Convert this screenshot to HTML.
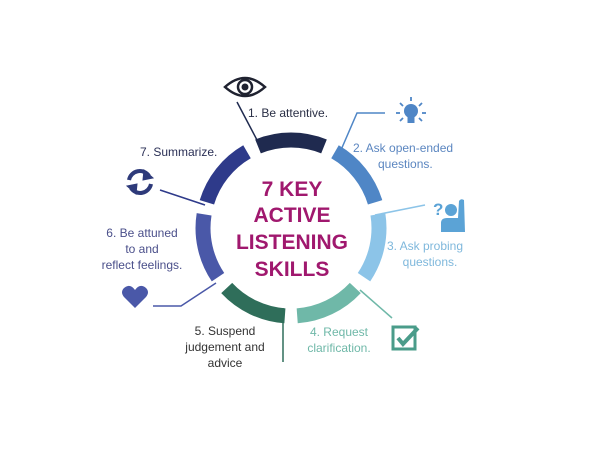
<!DOCTYPE html>
<html><head><meta charset="utf-8"><style>
html,body{margin:0;padding:0;background:#fff;}
svg{display:block;font-family:"Liberation Sans",sans-serif;}
</style></head><body>
<svg width="600" height="450" viewBox="0 0 600 450" xmlns="http://www.w3.org/2000/svg">
<g fill="none" stroke-width="15">
<path d="M258,146.4 A88,88 0 0 1 324,146.4" stroke="#1f2a4f"/>
<path d="M335,151.8 A88,88 0 0 1 375.1,202.3" stroke="#4f86c6"/>
<path d="M377.9,214.3 A88,88 0 0 1 364,277.2" stroke="#8cc4e8"/>
<path d="M355.3,288 A88,88 0 0 1 297.2,315.8" stroke="#6fb8a8"/>
<path d="M284.9,315.8 A88,88 0 0 1 226.7,288" stroke="#2f6e5a"/>
<path d="M218,277.2 A88,88 0 0 1 204.1,214.3" stroke="#4a58a8"/>
<path d="M206.9,202.3 A88,88 0 0 1 247,151.8" stroke="#2e3a8a"/>
</g>
<g fill="none" stroke-width="1.5">
<path d="M237,102 L257,140" stroke="#1f2a4f"/>
<path d="M341,150 L357,113 L385,113" stroke="#4f86c6"/>
<path d="M375,215 L425,205" stroke="#8cc4e8"/>
<path d="M360,290 L392,318" stroke="#6fb8a8"/>
<path d="M283,308 L283,362" stroke="#2f6e5a"/>
<path d="M216,283 L181,306 L153,306" stroke="#4a58a8"/>
<path d="M160,190 L205,205" stroke="#2e3a8a"/>
</g>
<g fill="#a0186e" font-weight="bold" font-size="21" text-anchor="middle">
<text x="292" y="196">7 KEY</text>
<text x="292" y="222">ACTIVE</text>
<text x="292" y="249">LISTENING</text>
<text x="292" y="276">SKILLS</text>
</g>
<g font-size="12">
<text x="248" y="117" fill="#2a2f45">1. Be attentive.</text>
<text x="353" y="152" fill="#5b86c0">2. Ask open-ended</text>
<text x="378" y="168" fill="#5b86c0">questions.</text>
<text x="140" y="156" fill="#2a2f55">7. Summarize.</text>
<g fill="#4a4f8a" text-anchor="middle">
<text x="142" y="237">6. Be attuned</text>
<text x="142" y="253">to and</text>
<text x="142" y="269">reflect feelings.</text>
</g>
<g fill="#7fb8dc" text-anchor="middle">
<text x="425" y="250">3. Ask probing</text>
<text x="430" y="266">questions.</text>
</g>
<g fill="#6fb8a8" text-anchor="middle">
<text x="339" y="336">4. Request</text>
<text x="339" y="352">clarification.</text>
</g>
<g fill="#333" text-anchor="middle">
<text x="225" y="335">5.   Suspend</text>
<text x="225" y="351">judgement and</text>
<text x="225" y="367">advice</text>
</g>
</g>
<!-- eye -->
<g transform="translate(245,87)">
<path d="M-20,0 Q0,-18 20,0 Q0,18 -20,0Z" fill="none" stroke="#1f2230" stroke-width="2.5"/>
<circle r="7" fill="none" stroke="#1f2230" stroke-width="2.5"/>
<circle r="3.5" fill="#1f2230"/>
</g>
<!-- bulb -->
<g transform="translate(411,113)" fill="#4f86c6" stroke="#4f86c6">
<circle cx="0" cy="-2" r="7" stroke="none"/>
<rect x="-3.5" y="4" width="7" height="6" stroke="none"/>
<g stroke-width="1.8"><line x1="0" y1="-16" x2="0" y2="-12"/><line x1="-11" y1="-10" x2="-8" y2="-7"/><line x1="11" y1="-10" x2="8" y2="-7"/><line x1="-15" y1="0" x2="-11" y2="0"/><line x1="15" y1="0" x2="11" y2="0"/><line x1="-11" y1="8" x2="-8" y2="5"/><line x1="11" y1="8" x2="8" y2="5"/></g>
</g>
<!-- person with question -->
<g fill="#5ba3d6">
<text x="433" y="215" font-size="17" font-weight="bold">?</text>
<circle cx="451" cy="210" r="6"/>
<path d="M441,232 L441,223 Q441,218 447,218 L458,218 L459,201 Q461,198 464,200 L465,232Z"/>
</g>
<!-- checkbox -->
<g transform="translate(404,338)">
<rect x="-11" y="-11" width="22" height="22" fill="none" stroke="#4a9c8a" stroke-width="3"/>
<path d="M-6,0 L-1,6 L14,-10" fill="none" stroke="#4a9c8a" stroke-width="4"/>
</g>
<!-- heart -->
<path d="M135,308 L124,297 Q120,292 124,288 Q130,283 135,290 Q140,283 146,288 Q150,292 146,297Z" fill="#4a58a8"/>
<!-- sync -->
<g transform="translate(140,182)" fill="none" stroke="#2e3a7a" stroke-width="4">
<path d="M-11,-2 A11,11 0 0 1 9,-6"/>
<path d="M11,2 A11,11 0 0 1 -9,6"/>
<path d="M4,-12 L13,-4 L3,-2Z" fill="#2e3a7a" stroke-width="1"/>
<path d="M-4,12 L-13,4 L-3,2Z" fill="#2e3a7a" stroke-width="1"/>
</g>
</svg>
</body></html>
